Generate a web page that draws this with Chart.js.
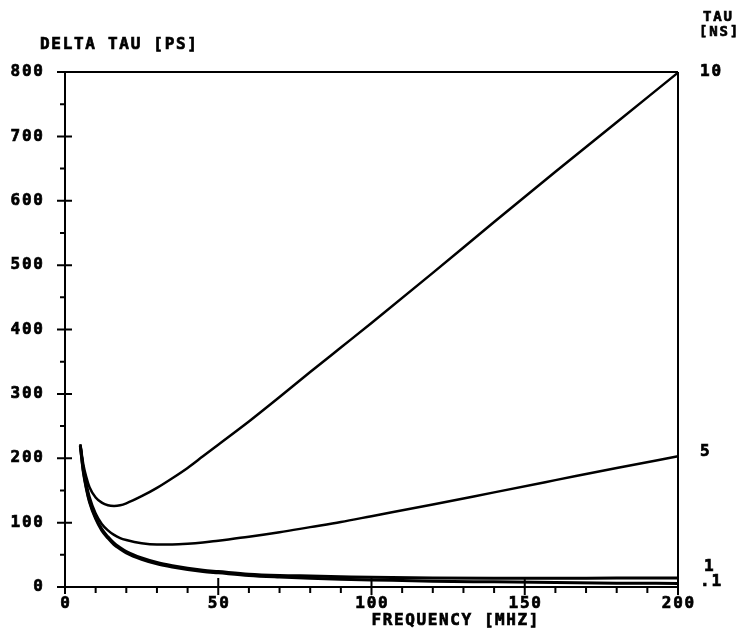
<!DOCTYPE html>
<html>
<head>
<meta charset="utf-8">
<title>Delta tau vs frequency</title>
<script src="https://cdn.jsdelivr.net/npm/chart.js@4/dist/chart.umd.min.js"></script>
<style>
  html, body { margin: 0; padding: 0; background: #fff; }
  #plot { display: block; }
</style>
</head>
<body>
<canvas id="plot" width="745" height="636"></canvas>
<script>
// Delta tau (ps) against frequency (MHz), one curve per tau (ns).

const FREQ = [5, 6, 7, 8, 10, 12, 14, 16, 18, 20, 25, 30, 35, 40, 45, 50, 60, 70, 80, 90, 100, 120, 140, 160, 180, 200];
const TAU_10 = [222, 190, 170, 155, 139, 131, 127, 126, 127, 130, 141, 154, 169, 185, 203, 221, 257, 295, 334, 372, 410, 488, 567, 645, 722, 799];
const TAU_5 = [220, 185, 160, 140, 114, 98, 88, 81, 76, 73, 68, 66, 66, 67, 69, 72, 78, 85, 93, 101, 110, 128, 147, 166, 185, 203];
const TAU_1 = [220, 180, 154, 134, 108, 90, 78, 68, 61, 55, 45, 38, 33, 29, 26, 24, 20, 18, 17, 16, 15, 14, 13.5, 13.5, 14, 14];
const TAU_01 = [219, 178, 152, 132, 106, 88, 76, 66, 59, 53, 43, 36, 31, 27, 24, 22, 18, 15.5, 13.5, 12, 11, 9, 8, 7, 6, 5.5];

const SERIES = [TAU_10, TAU_5, TAU_1, TAU_01];
const SERIES_LABELS = ["10", "5", "1", ".1"];

const X_TICKS = [0, 50, 100, 150, 200];
const Y_TICKS = [0, 100, 200, 300, 400, 500, 600, 700, 800];

const FONT = "DejaVu Sans Mono";

// plotter-style text: bold mono, spaced out, slightly stroked for weight
function txt(ctx, s, x, y, align, size, spacing) {
  ctx.save();
  ctx.font = `bold ${size}px "${FONT}"`;
  ctx.letterSpacing = spacing + "px";
  ctx.fillStyle = "#000";
  ctx.strokeStyle = "#000";
  ctx.lineWidth = 0.7;
  ctx.textBaseline = "middle";
  const w = ctx.measureText(s).width - spacing;
  let x0 = x;
  if (align === "center") x0 = x - w / 2;
  else if (align === "right") x0 = x - w;
  ctx.textAlign = "left";
  ctx.fillText(s, x0, y);
  ctx.strokeText(s, x0, y);
  ctx.restore();
}

const plotterAxes = {
  id: "plotterAxes",
  beforeDatasetsDraw(chart) {
    const { ctx, chartArea: a, scales: { x, y } } = chart;
    ctx.save();
    ctx.strokeStyle = "#000";
    ctx.lineWidth = 2;
    ctx.beginPath();
    // frame
    ctx.moveTo(a.left, a.top); ctx.lineTo(a.right, a.top);
    ctx.moveTo(a.left, a.top); ctx.lineTo(a.left, a.bottom + 7);
    ctx.moveTo(a.right, a.top); ctx.lineTo(a.right, a.bottom + 8);
    ctx.moveTo(a.left, a.bottom); ctx.lineTo(a.right, a.bottom);
    // x ticks every 10, long ones every 50
    for (let v = 10; v < 200; v += 10) {
      const px = x.getPixelForValue(v);
      if (v % 50 === 0) { ctx.moveTo(px, a.bottom - 9); ctx.lineTo(px, a.bottom + 8); }
      else { ctx.moveTo(px, a.bottom); ctx.lineTo(px, a.bottom + 6); }
    }
    // y ticks every 50, crossing ones every 100
    for (let v = 0; v <= 800; v += 50) {
      const py = y.getPixelForValue(v);
      if (v % 100 === 0) { ctx.moveTo(a.left - 8, py); ctx.lineTo(a.left + (v === 800 ? 0 : 7), py); }
      else { ctx.moveTo(a.left - 5, py); ctx.lineTo(a.left, py); }
    }
    ctx.stroke();
    ctx.restore();
  },
  afterDraw(chart) {
    const { ctx, chartArea: a, scales: { x, y } } = chart;
    Y_TICKS.forEach((v) => txt(ctx, String(v), a.left - 22, y.getPixelForValue(v), "right", 16, 1.8));
    X_TICKS.forEach((v) => txt(ctx, String(v), x.getPixelForValue(v), a.bottom + 17, "center", 16, 1.8));
    txt(ctx, "DELTA TAU [PS]", 40, 45, "left", 16, 1.7);
    txt(ctx, "FREQUENCY [MHZ]", 455, a.bottom + 34, "center", 16, 1.6);
    txt(ctx, "TAU", 703, 17, "left", 14, 1.8);
    txt(ctx, "[NS]", 699, 32, "left", 14, 1.8);
    // curve labels on the right, next to each curve end
    const nudge = [-1, -4, -11, -2];
    SERIES.forEach((s, i) => {
      const py = y.getPixelForValue(s[s.length - 1]) + nudge[i];
      const px = SERIES_LABELS[i] === "1" ? a.right + 26 : a.right + 22;
      txt(ctx, SERIES_LABELS[i], px, py, "left", 16, 1.8);
    });
  },
};

new Chart(document.getElementById("plot"), {
  type: "line",
  data: {
    datasets: SERIES.map((s, i) => ({
      label: SERIES_LABELS[i],
      data: FREQ.map((f, j) => ({ x: f, y: s[j] })),
      borderColor: "#000",
      borderWidth: i >= 2 ? 3 : 2.5,
      pointRadius: 0,
      cubicInterpolationMode: "monotone",
      clip: false,
    })),
  },
  options: {
    responsive: false,
    animation: false,
    events: [],
    layout: { padding: { left: 65, right: 67, top: 72, bottom: 49 } },
    plugins: { legend: { display: false }, tooltip: { enabled: false } },
    scales: {
      x: { type: "linear", min: 0, max: 200, display: false },
      y: { type: "linear", min: 0, max: 800, display: false },
    },
  },
  plugins: [plotterAxes],
});
</script>
</body>
</html>
